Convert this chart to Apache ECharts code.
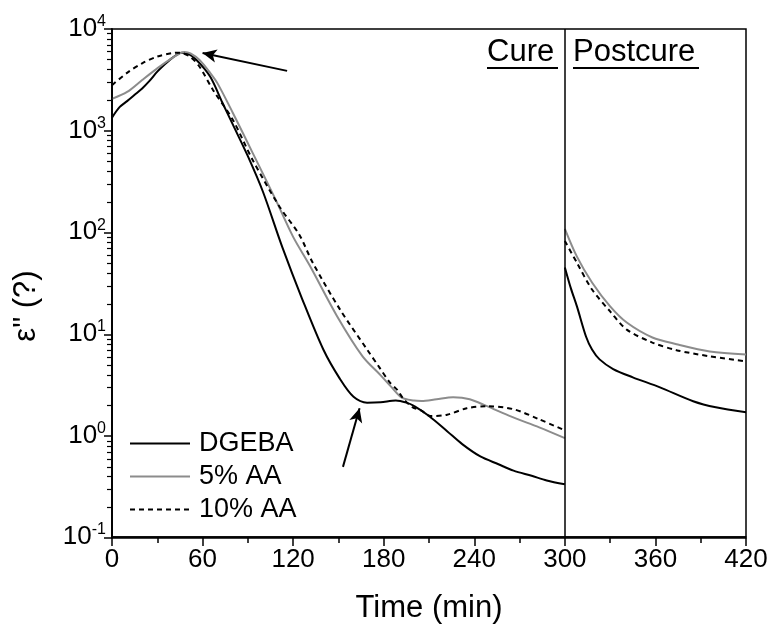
<!DOCTYPE html>
<html>
<head>
<meta charset="utf-8">
<script src="https://cdn.jsdelivr.net/npm/echarts@6/dist/echarts.min.js"></script>
<style>
html, body { margin: 0; padding: 0; background: #fff; }
.w { position: relative; width: 771px; height: 629px; }
#chart, #ticks { position: absolute; left: 0; top: 0; width: 771px; height: 629px; }
#ticks { pointer-events: none; }
</style>
</head>
<body>
<div class="w">
  <div id="chart"></div>
  <div id="ticks"></div>
</div>
<script>
// cure stage, 0 - 300 min
var dgebaCureT = [0, 5, 10, 15, 20, 25, 30, 35, 40, 46, 50, 56, 65, 73, 80, 90, 100, 113, 126, 140, 151, 160, 169, 178, 188, 195, 200, 210, 222, 232, 244, 256, 266, 278, 288, 300]
var dgebaCureE = [1340, 1700, 1950, 2250, 2600, 3100, 3800, 4500, 5200, 5850, 5750, 4950, 3400, 1900, 1150, 560, 250, 70, 22, 7, 3.6, 2.4, 2.1, 2.12, 2.2, 2.1, 1.95, 1.55, 1.1, 0.82, 0.62, 0.52, 0.45, 0.4, 0.36, 0.33]
var aa5CureT = [0, 10, 20, 30, 40, 48, 52, 58, 65, 70, 80, 93, 108, 120, 131, 149, 166, 178, 185, 192, 200, 205, 215, 226, 237, 248, 265, 283, 300]
var aa5CureE = [2050, 2400, 3150, 4100, 5200, 5950, 5750, 4950, 3700, 2900, 1500, 610, 215, 90, 47, 15, 6, 3.9, 3.0, 2.35, 2.2, 2.18, 2.27, 2.37, 2.27, 1.95, 1.52, 1.2, 0.94]
var aa10CureT = [0, 10, 20, 30, 40, 45, 52, 58, 67, 80, 93, 111, 124, 133, 151, 169, 177, 184, 189, 193, 199, 205, 211, 222, 235, 248, 266, 283, 300]
var aa10CureE = [2800, 3700, 4600, 5350, 5800, 5850, 5300, 4250, 2500, 1280, 520, 178, 95, 50, 17.4, 7, 4.7, 3.33, 2.8, 2.3, 1.9, 1.75, 1.55, 1.6, 1.85, 1.94, 1.81, 1.44, 1.12]

// postcure stage, 300 - 420 min
var dgebaPostT = [300, 304, 308, 314, 318, 323, 332, 345, 363, 385, 400, 420]
var dgebaPostE = [45, 28, 18.6, 9.4, 7, 5.6, 4.5, 3.73, 2.97, 2.17, 1.89, 1.69]
var aa5PostT = [300, 308, 318, 330, 341, 358, 374, 396, 420]
var aa5PostE = [108, 57.5, 32, 18.6, 12.9, 9.2, 7.9, 6.7, 6.25]
var aa10PostT = [300, 308, 318, 330, 341, 358, 374, 396, 420]
var aa10PostE = [82, 50, 27.3, 16.6, 11, 8.2, 6.9, 6.0, 5.35]

var seriesNames = ['DGEBA', '5% AA', '10% AA']

var FONT = '"Liberation Sans", Arial, sans-serif'
var GRID = { left: 112, right: 25, top: 29, bottom: 91 }

// join cure and postcure with a gap at 300 min
function join (t1, e1, t2, e2) {
  var out = t1.map(function (t, i) { return [t, e1[i]] })
  out.push([300, '-'])
  return out.concat(t2.map(function (t, i) { return [t, e2[i]] }))
}

function yLabel (v) {
  return '{b|10}{s|' + Math.round(Math.log10(v)) + '}'
}

var myChart = echarts.init(document.getElementById('chart'))
// second instance on top, only for the axis ticks
var tickChart = echarts.init(document.getElementById('ticks'))

var option = {
  backgroundColor: '#fff',
  animation: false,
  textStyle: { fontFamily: FONT },
  grid: {
    left: GRID.left,
    right: GRID.right,
    top: GRID.top,
    bottom: GRID.bottom,
    show: true,
    borderColor: '#000',
    borderWidth: 1.5
  },
  legend: {
    data: seriesNames,
    orient: 'vertical',
    left: 124,
    top: 425,
    itemWidth: 60,
    itemHeight: 12,
    itemGap: 6,
    selectedMode: false,
    itemStyle: { opacity: 0 },
    textStyle: { fontSize: 27, color: '#000', fontFamily: FONT, padding: [0, 0, 0, 4] }
  },
  xAxis: {
    type: 'value',
    min: 0,
    max: 420,
    interval: 60,
    name: 'Time (min)',
    nameLocation: 'middle',
    nameGap: 56,
    nameTextStyle: { fontSize: 31, color: '#000', fontFamily: FONT },
    axisLine: { show: true, lineStyle: { color: '#000', width: 1.5 } },
    axisTick: { show: false },
    axisLabel: { fontSize: 26, color: '#000', margin: 10 },
    splitLine: { show: false }
  },
  yAxis: {
    type: 'log',
    min: 0.1,
    max: 10000,
    name: 'ε" (?)',
    nameLocation: 'middle',
    nameGap: 70,
    nameTextStyle: { fontSize: 31, color: '#000', fontFamily: FONT, padding: [0, 46, 0, 0] },
    axisLine: { show: true, lineStyle: { color: '#000', width: 1.5 } },
    axisTick: { show: false },
    axisLabel: {
      margin: 6,
      formatter: yLabel,
      rich: {
        b: { fontSize: 26, color: '#000', fontFamily: FONT },
        s: { fontSize: 16, color: '#000', fontFamily: FONT, padding: [0, 0, 14, 0] }
      }
    },
    splitLine: { show: false }
  },
  graphic: [
    { type: 'text', left: 487, top: 37, style: { text: 'Cure', font: '31px ' + FONT, fill: '#000' } },
    { type: 'line', shape: { x1: 487, y1: 68, x2: 558, y2: 68 }, style: { stroke: '#000', lineWidth: 2 } },
    { type: 'text', left: 573, top: 37, style: { text: 'Postcure', font: '31px ' + FONT, fill: '#000' } },
    { type: 'line', shape: { x1: 573, y1: 68, x2: 699, y2: 68 }, style: { stroke: '#000', lineWidth: 2 } }
  ],
  series: [
    {
      name: 'DGEBA',
      type: 'line',
      data: join(dgebaCureT, dgebaCureE, dgebaPostT, dgebaPostE),
      symbol: 'none',
      smooth: 0.3,
      lineStyle: { color: '#000', width: 2 },
      itemStyle: { color: '#000' },
      markLine: {
        silent: true,
        animation: false,
        label: { show: false },
        data: [
          [
            { coord: [300, 0.1], symbol: 'none', lineStyle: { color: '#000', width: 1.5, type: 'solid' } },
            { coord: [300, 10000], symbol: 'none' }
          ],
          [
            { coord: [116, 3870], symbol: 'none', lineStyle: { color: '#000', width: 2, type: 'solid' } },
            { coord: [60, 5800], symbol: 'arrow', symbolSize: [10, 14] }
          ],
          [
            { coord: [153, 0.49], symbol: 'none', lineStyle: { color: '#000', width: 2, type: 'solid' } },
            { coord: [164, 1.85], symbol: 'arrow', symbolSize: [10, 14] }
          ]
        ]
      }
    },
    {
      name: '5% AA',
      type: 'line',
      data: join(aa5CureT, aa5CureE, aa5PostT, aa5PostE),
      symbol: 'none',
      smooth: 0.3,
      lineStyle: { color: '#8c8c8c', width: 2 },
      itemStyle: { color: '#8c8c8c' }
    },
    {
      name: '10% AA',
      type: 'line',
      data: join(aa10CureT, aa10CureE, aa10PostT, aa10PostE),
      symbol: 'none',
      smooth: 0.3,
      lineStyle: { color: '#000', width: 2, type: [5, 4] },
      itemStyle: { color: '#000' }
    }
  ]
}

// ticks only: same grid and scales, labels invisible
var tickOption = {
  backgroundColor: 'transparent',
  animation: false,
  textStyle: { fontFamily: FONT },
  grid: GRID,
  xAxis: {
    type: 'value',
    min: 0,
    max: 420,
    interval: 60,
    axisLine: { show: true, lineStyle: { color: '#000', width: 1.5 } },
    axisTick: { show: true, length: 8, lineStyle: { color: '#000', width: 1.5 } },
    minorTick: { show: true, splitNumber: 2, length: 5, lineStyle: { color: '#000', width: 1.5 } },
    axisLabel: { fontSize: 26, color: 'rgba(0,0,0,0)', margin: 10 },
    splitLine: { show: false }
  },
  yAxis: {
    type: 'log',
    min: 0.1,
    max: 10000,
    axisLine: { show: true, lineStyle: { color: '#000', width: 1.5 } },
    axisTick: { show: true, length: 8, lineStyle: { color: '#000', width: 1.5 } },
    minorTick: { show: true, splitNumber: 9, length: 5, lineStyle: { color: '#000', width: 1.2 } },
    axisLabel: {
      margin: 6,
      formatter: yLabel,
      rich: {
        b: { fontSize: 26, color: 'rgba(0,0,0,0)' },
        s: { fontSize: 16, color: 'rgba(0,0,0,0)', padding: [0, 0, 14, 0] }
      }
    },
    splitLine: { show: false }
  },
  series: [{ type: 'line', data: [], symbol: 'none' }]
}

myChart.setOption(option)
tickChart.setOption(tickOption)
window.addEventListener('resize', function () {
  myChart.resize()
  tickChart.resize()
})
</script>
</body>
</html>
